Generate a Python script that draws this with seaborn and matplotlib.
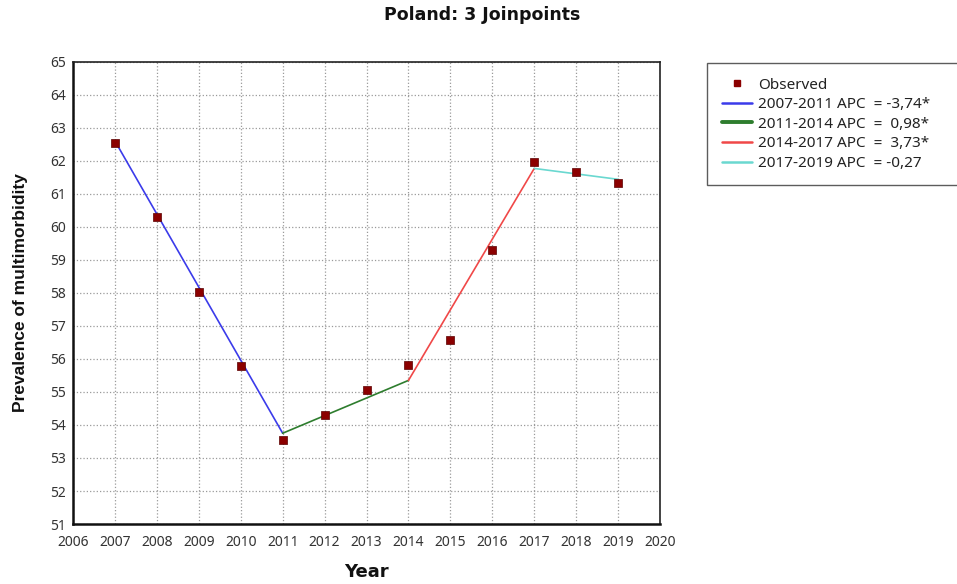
import matplotlib
matplotlib.use("Agg")
import matplotlib.pyplot as plt
from matplotlib.lines import Line2D
import seaborn as sns
import pandas as pd

# Observed prevalence of multimorbidity, Poland
years = [2007, 2008, 2009, 2010, 2011, 2012, 2013, 2014, 2015, 2016, 2017, 2018, 2019]
observed = [62.55, 60.3, 58.03, 55.79, 53.55, 54.3, 55.06, 55.82, 56.58, 59.3, 61.97, 61.67, 61.33]

# Joinpoint model: fitted values at the segment ends
joinpoint_years = [2007, 2011, 2014, 2017, 2019]
fitted = [62.6, 53.75, 55.35, 61.77, 61.44]
segment_labels = [
    "2007-2011 APC  = -3,74*",
    "2011-2014 APC  =  0,98*",
    "2014-2017 APC  =  3,73*",
    "2017-2019 APC  = -0,27",
]
segment_colors = ["#3b3bea", "#2e7d2e", "#f04848", "#6ad8d0"]

obs_df = pd.DataFrame({"year": years, "value": observed})
rows = []
for i, lab in enumerate(segment_labels):
    for j in (i, i + 1):
        rows.append({"year": joinpoint_years[j], "value": fitted[j], "segment": lab})
fit_df = pd.DataFrame(rows)

sns.set_style("white")
plt.rcParams["font.family"] = ["Noto Sans", "DejaVu Sans"]

fig = plt.figure(figsize=(9.57, 5.84), dpi=100)
ax = fig.add_axes([0.0763, 0.1027, 0.6134, 0.7915])

sns.lineplot(data=fit_df, x="year", y="value", hue="segment", hue_order=segment_labels,
             palette=segment_colors, sort=False, legend=False, linewidth=1.2, ax=ax)
sns.scatterplot(data=obs_df, x="year", y="value", marker="s", s=38, color="#8b0000",
                edgecolor="#5a0000", linewidth=0.5, zorder=5, ax=ax)

ax.set_xlim(2006, 2020)
ax.set_ylim(51, 65)
ax.set_xticks(range(2006, 2021))
ax.set_yticks(range(51, 66))
ax.tick_params(axis="both", length=0, labelsize=10, colors="#333333")
ax.tick_params(axis="x", pad=8)
ax.tick_params(axis="y", pad=5)
ax.grid(True, linestyle=":", color="#9a9a9a", linewidth=0.9)
ax.set_axisbelow(True)
for side in ("top", "right"):
    ax.spines[side].set_color("#222222")
    ax.spines[side].set_linewidth(1.2)
for side in ("left", "bottom"):
    ax.spines[side].set_color("#111111")
    ax.spines[side].set_linewidth(1.8)

ax.set_xlabel("Year", fontsize=13, fontweight="bold", family=["DejaVu Sans"],
              color="#111111", labelpad=9)
ax.set_ylabel("Prevalence of multimorbidity", fontsize=12.5, fontweight="bold",
              family=["Liberation Sans", "DejaVu Sans"], color="#111111", labelpad=16)
fig.text(0.504, 0.974, "Poland: 3 Joinpoints", ha="center", va="center",
         fontsize=12.5, fontweight="bold", family=["DejaVu Sans"], color="#111111")

handles = [Line2D([], [], marker="s", linestyle="none", color="#8b0000",
                  markersize=5, label="Observed")]
widths = [1.8, 2.8, 1.8, 1.8]
for lab, col, w in zip(segment_labels, segment_colors, widths):
    handles.append(Line2D([], [], color=col, linewidth=w, label=lab))

leg = fig.legend(handles=handles, loc="upper left",
                 bbox_to_anchor=(0.739, 0.892, 0.262, 0.0), mode="expand",
                 fontsize=11, frameon=True, fancybox=False, handlelength=2.0,
                 handletextpad=0.35, labelspacing=0.3, borderpad=0.95,
                 borderaxespad=0)
leg.get_frame().set_edgecolor("#333333")
leg.get_frame().set_linewidth(1.0)
for t in leg.get_texts():
    t.set_color("#222222")

fig.savefig("out.png", dpi=100)
